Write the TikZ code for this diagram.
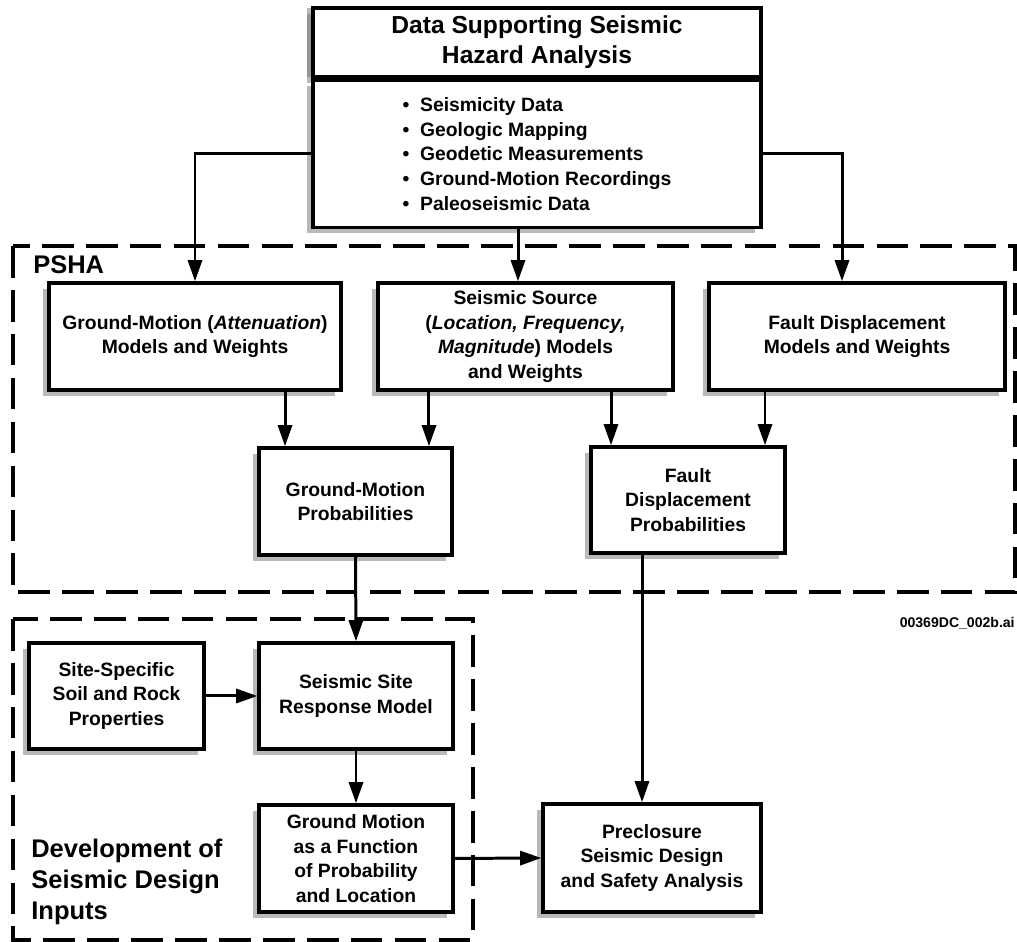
\documentclass[tikz,border=0pt]{standalone}
\usepackage{fontspec}
\setmainfont{Liberation Sans}
\usetikzlibrary{positioning, shadows, arrows.meta}
\tikzstyle{block} = [
    rectangle,
    draw=black,
    line width=2pt,
    fill=white,
    align=center,
    font=\fontsize{11}{14}\selectfont\bfseries,
    drop shadow={shadow xshift=-0.12cm, shadow yshift=-0.12cm, fill=black!55}
]
\tikzstyle{frame} = [
    line width=2.3pt,
    dash pattern=on 18pt off 7pt
]
\tikzstyle{grouplabel} = [
    anchor=west,
    align=left,
    inner sep=0pt,
    font=\fontsize{14.5}{17.5}\selectfont\bfseries
]
\tikzstyle{arrow} = [line width=1.7pt,-{Triangle[length=12pt,width=8pt]}]

\begin{document}
\begin{tikzpicture}[x=0.02cm, y=0.02cm]
\useasboundingbox (0,0) rectangle (1017,942);

% dashed groups
\draw [frame] (13,696) rectangle (1015,350);
\draw [frame] (13,323) rectangle (473,2);
\node (pshalabel) [grouplabel] at (33,677) {PSHA};
\node (devlabel) [grouplabel] at (31,60) {Development of\\Seismic Design\\Inputs};
\node (figid) [anchor=east, inner sep=0pt, font=\fontsize{8}{9}\selectfont\bfseries]
    at (1015,319) {00369DC\_002b.ai};

\node (datahead) [block, minimum width=8.96cm, minimum height=1.38cm,
    font=\fontsize{14}{17}\selectfont\bfseries,
    drop shadow={shadow xshift=-0.12cm, shadow yshift=0cm, fill=black!55}]
    at (537,899.5) {Data Supporting Seismic\\Hazard Analysis};

\node (datalist) [block, below=0pt of datahead, minimum width=8.96cm,
    minimum height=2.94cm, align=left, font=\fontsize{11}{14}\selectfont\bfseries]
{\textbullet\ \ Seismicity Data\\
\textbullet\ \ Geologic Mapping\\
\textbullet\ \ Geodetic Measurements\\
\textbullet\ \ Ground-Motion Recordings\\
\textbullet\ \ Paleoseismic Data};

\node (gmm) [block, minimum width=5.84cm, minimum height=2.14cm] at (195,605.5)
{Ground-Motion (\textit{Attenuation})\\Models and Weights};

\node (src) [block, minimum width=5.9cm, minimum height=2.14cm] at (525.5,605.5)
{Seismic Source\\(\textit{Location, Frequency,}\\\textit{Magnitude}) Models\\and Weights};

\node (fdm) [block, minimum width=5.92cm, minimum height=2.14cm] at (857,605.5)
{Fault Displacement\\Models and Weights};

\node (gmp) [block, minimum width=3.86cm, minimum height=2.14cm] at (355.5,440.5)
{Ground-Motion\\Probabilities};

\node (fdp) [block, minimum width=3.88cm, minimum height=2.12cm] at (688,442)
{Fault\\Displacement\\Probabilities};

\node (ssrm) [block, minimum width=3.88cm, minimum height=2.12cm] at (356,246)
{Seismic Site\\Response Model};

\node (site) [block, left of=ssrm, node distance=4.79cm, minimum width=3.5cm,
    minimum height=2.12cm]
{Site-Specific\\Soil and Rock\\Properties};

\node (gmf) [block, below of=ssrm, node distance=3.25cm, minimum width=3.88cm,
    minimum height=2.14cm]
{Ground Motion\\as a Function\\of Probability\\and Location};

\node (pre) [block, minimum width=4.36cm, minimum height=2.16cm] at (652,84)
{Preclosure\\Seismic Design\\and Safety Analysis};

\draw [arrow] (datalist.west) -| (gmm.north);
\draw [arrow] ([xshift=-0.15cm]src.north |- datalist.south) -- ([xshift=-0.15cm]src.north);
\draw [arrow] (datalist.east) -| ([xshift=-0.3cm]fdm.north);
\draw [arrow] ([xshift=-1.41cm]gmp.north |- gmm.south) -- ([xshift=-1.41cm]gmp.north);
\draw [arrow] ([xshift=1.47cm]gmp.north |- src.south) -- ([xshift=1.47cm]gmp.north);
\draw [arrow] ([xshift=-1.54cm]fdp.north |- src.south) -- ([xshift=-1.54cm]fdp.north);
\draw [arrow] ([xshift=1.54cm]fdp.north |- fdm.south) -- ([xshift=1.54cm]fdp.north);
\draw [arrow] (gmp.south) -- (ssrm.north);
\draw [arrow] ([xshift=-0.2cm]pre.north |- fdp.south) -- ([xshift=-0.2cm]pre.north);
\draw [arrow] (site.east) -- (ssrm.west);
\draw [arrow] (ssrm.south) -- (gmf.north);
\draw [arrow] (gmf.east) -- (pre.west);

\end{tikzpicture}
\end{document}
